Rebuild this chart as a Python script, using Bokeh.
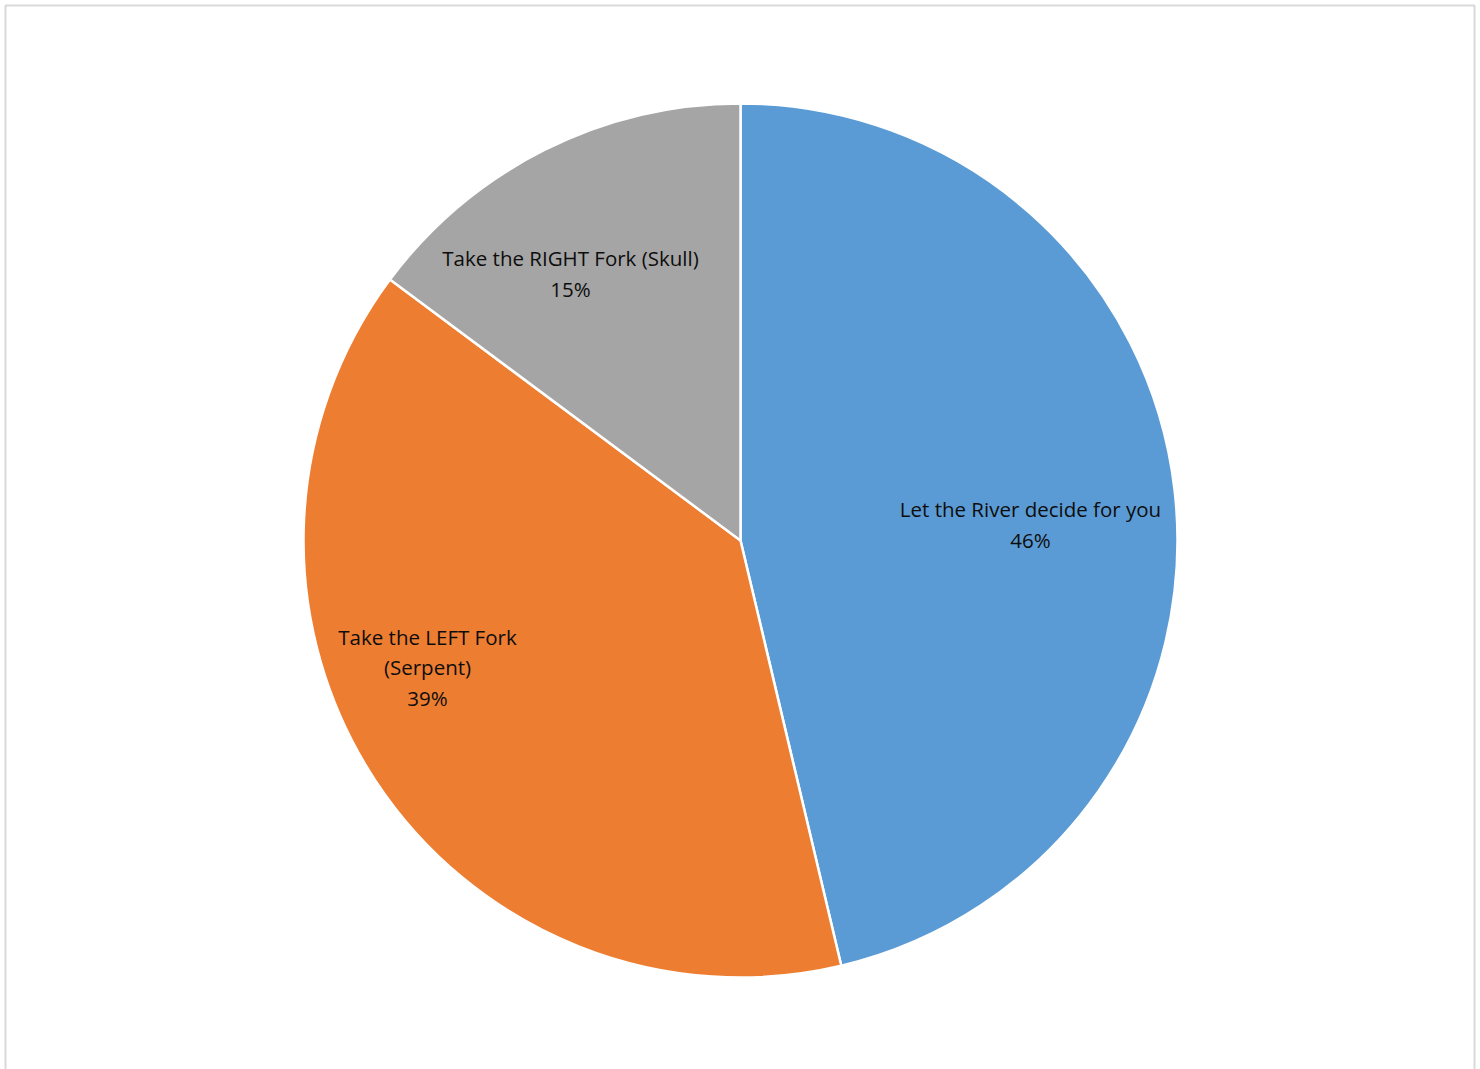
import math
from bokeh.plotting import figure
from bokeh.models import Range1d, ColumnDataSource
from bokeh.core.properties import value
from bokeh.embed import file_html
from bokeh.resources import INLINE

categories = ["Let the River decide for you", "Take the LEFT Fork\n(Serpent)", "Take the RIGHT Fork (Skull)"]
values = [25, 21, 8]
colors = ["#5B9BD5", "#ED7D31", "#A5A5A5"]
# label anchor offsets (pixels from pie centre), layout only
label_dx = [290, -313, -170]
label_dy = [16, -127, 267]

total = float(sum(values))
starts, ends, labels = [], [], []
cum = 0.0
for v, c in zip(values, categories):
    a0 = math.pi / 2 - 2 * math.pi * (cum + v) / total
    a1 = math.pi / 2 - 2 * math.pi * cum / total
    starts.append(a0)
    ends.append(a1)
    cum += v
    labels.append(f"{c}\n{round(100 * v / total)}%")

src = ColumnDataSource(dict(start=starts, end=ends, color=colors))
lsrc = ColumnDataSource(dict(x=label_dx, y=label_dy, text=labels))

W, H = 1480, 1069
p = figure(width=W, height=H, output_backend="svg", toolbar_location=None,
           x_range=Range1d(-740, 740), y_range=Range1d(-529, 540),
           min_border=0, min_border_left=0, min_border_right=0,
           min_border_top=0, min_border_bottom=0)
p.axis.visible = False
p.grid.visible = False
p.outline_line_color = None
p.background_fill_color = "white"

# chart-area border
p.quad(left=-735, right=734, top=535, bottom=-560, fill_color=None,
       line_color="#D9D9D9", line_width=2)

p.wedge(x=0, y=0, radius=437, radius_units="data", start_angle="start", end_angle="end",
        fill_color="color", line_color="white", line_width=2.5, source=src)

p.text(x="x", y="y", text="text", source=lsrc, text_align="center", text_baseline="middle",
       text_font=value("Open Sans"), text_font_size="20.5px", text_color="#0d0d0d",
       text_line_height=1.09)

open("out.html", "w").write(file_html(p, INLINE))
